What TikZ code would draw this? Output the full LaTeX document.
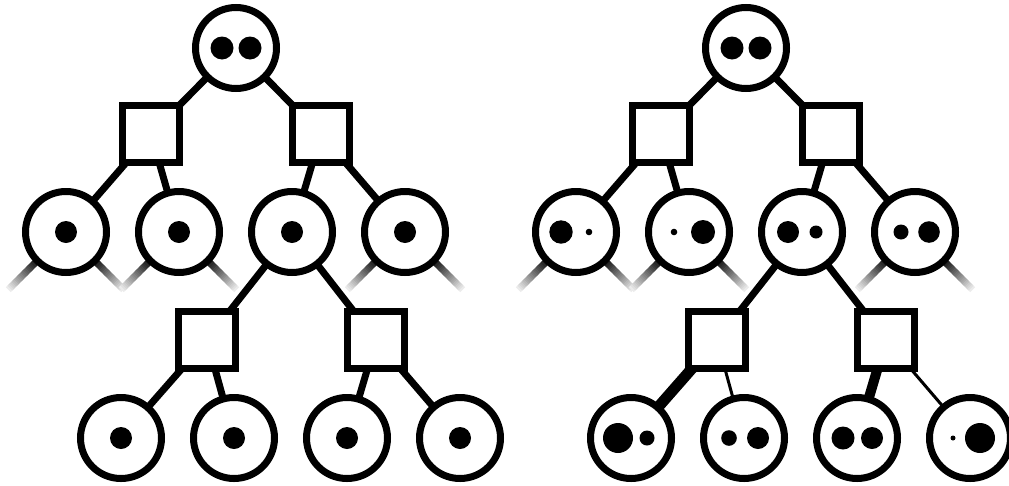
\documentclass[tikz,border=0pt]{standalone}
\usetikzlibrary{calc,backgrounds}
\tikzset{
  circ/.style={circle, draw, line width=7pt, fill=white, minimum size=81pt, inner sep=0pt},
  sq/.style={rectangle, draw, line width=7pt, fill=white, minimum size=57pt, inner sep=0pt},
  link/.style={line width=7pt},
}
\newcommand{\dt}[3]{\fill ($(#1.center)+(#2,0)$) circle (#3);}
\begin{document}
\begin{tikzpicture}[x=1pt,y=-1pt]
\useasboundingbox (0,0) rectangle (1009,485);
% ---------- left tree ----------
\node[circ] (lt) at (236,48) {};
\node[sq] (ls1) at (151,134) {};
\node[sq] (ls2) at (321,134) {};
\node[circ] (la) at (66,232) {};
\node[circ] (lb) at (179,232) {};
\node[circ] (lc) at (292,232) {};
\node[circ] (ld) at (405,232) {};
\node[sq] (ls3) at (207,340) {};
\node[sq] (ls4) at (376,340) {};
\node[circ] (le) at (121,438) {};
\node[circ] (lf) at (234,438) {};
\node[circ] (lg) at (347,438) {};
\node[circ] (lh) at (460,438) {};
% ---------- right tree ----------
\node[circ] (rt) at (746,48) {};
\node[sq] (rs1) at (661,134) {};
\node[sq] (rs2) at (831,134) {};
\node[circ] (ra) at (576,232) {};
\node[circ] (rb) at (689,232) {};
\node[circ] (rc) at (802,232) {};
\node[circ] (rd) at (915,232) {};
\node[sq] (rs3) at (717,340) {};
\node[sq] (rs4) at (886,340) {};
\node[circ] (re) at (631,438) {};
\node[circ] (rf) at (744,438) {};
\node[circ] (rg) at (857,438) {};
\node[circ] (rh) at (970,438) {};
% ---------- connectors ----------
\begin{scope}[on background layer]
  \foreach \a/\b in {lt/ls1,lt/ls2,ls1/la,ls1/lb,ls2/lc,ls2/ld,lc/ls3,lc/ls4,ls3/le,ls3/lf,ls4/lg,ls4/lh,
                     rt/rs1,rt/rs2,rs1/ra,rs1/rb,rs2/rc,rs2/rd,rc/rs3,rc/rs4}
    \draw[link] (\a.center) -- (\b.center);
  \draw[line width=11pt] (rs3.center) -- (re.center);
  \draw[line width=3pt] (rs3.center) -- (rf.center);
  \draw[line width=10pt] (rs4.center) -- (rg.center);
  \draw[line width=3pt] (rs4.center) -- (rh.center);
  % fading stubs
  \foreach \n in {la,lb,ld,ra,rb,rd}{
    \foreach \ang in {45,135}{
      \foreach \i in {0,...,23}{
        \pgfmathsetmacro\ra{38+1.8*\i}
        \pgfmathsetmacro\rb{38+1.8*(\i+1)+0.4}
        \pgfmathtruncatemacro\p{100-4*\i}
        \draw[line width=7pt, black!\p] ($(\n.center)+(\ang:\ra)$) -- ($(\n.center)+(\ang:\rb)$);
      }
    }
  }
\end{scope}
% ---------- dots ----------
\dt{lt}{-14}{11.5}\dt{lt}{14}{11.5}
\foreach \n in {la,lb,lc,ld,le,lf,lg,lh}{\dt{\n}{0}{11}}
\dt{rt}{-14}{11.5}\dt{rt}{14}{11.5}
\dt{ra}{-15}{11.7}\dt{ra}{13}{3.3}
\dt{rb}{-15}{3.3}\dt{rb}{14}{12}
\dt{rc}{-14}{11}\dt{rc}{14}{6.5}
\dt{rd}{-14}{7.5}\dt{rd}{14}{10.8}
\dt{re}{-13}{15}\dt{re}{16}{7.5}
\dt{rf}{-15}{7.8}\dt{rf}{14}{11}
\dt{rg}{-14}{11.5}\dt{rg}{15}{11}
\dt{rh}{-17}{2.5}\dt{rh}{10}{15}
\end{tikzpicture}
\end{document}
